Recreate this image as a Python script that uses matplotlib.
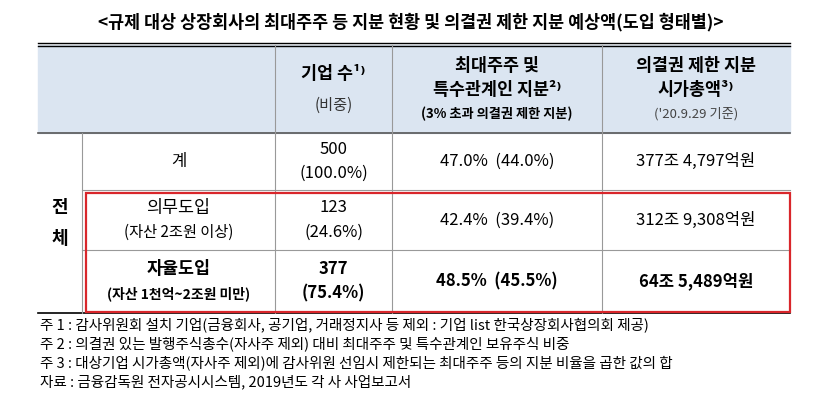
import matplotlib
matplotlib.use("Agg")
import matplotlib.pyplot as plt
from matplotlib.patches import Rectangle

plt.rcParams['font.family'] = ['Noto Sans CJK KR', 'DejaVu Sans']

title = "<규제 대상 상장회사의 최대주주 등 지분 현황 및 의결권 제한 지분 예상액(도입 형태별)>"
headers = [("기업 수¹⁾", "(비중)"), ("최대주주 및", "특수관계인 지분²⁾", "(3% 초과 의결권 제한 지분)"), ("의결권 제한 지분", "시가총액³⁾", "('20.9.29 기준)")]
row_labels = [("계",), ("의무도입", "(자산 2조원 이상)"), ("자율도입", "(자산 1천억~2조원 미만)")]
firm_counts = ["500", "123", "377"]
firm_shares = ["(100.0%)", "(24.6%)", "(75.4%)"]
stake = ["47.0%  (44.0%)", "42.4%  (39.4%)", "48.5%  (45.5%)"]
cap = ["377조 4,797억원", "312조 9,308억원", "64조 5,489억원"]
notes = ["주 1 : 감사위원회 설치 기업(금융회사, 공기업, 거래정지사 등 제외 : 기업 list 한국상장회사협의회 제공)",
         "주 2 : 의결권 있는 발행주식총수(자사주 제외) 대비 최대주주 및 특수관계인 보유주식 비중",
         "주 3 : 대상기업 시가총액(자사주 제외)에 감사위원 선임시 제한되는 최대주주 등의 지분 비율을 곱한 값의 합",
         "자료 : 금융감독원 전자공시시스템, 2019년도 각 사 사업보고서"]

W, H = 822, 403
fig = plt.figure(figsize=(W/100, H/100), dpi=100)
ax = fig.add_axes([0, 0, 1, 1])
ax.set_xlim(0, W); ax.set_ylim(H, 0); ax.axis('off')

ax.text(411, 22, title, ha='center', va='center', fontsize=12.5, fontweight='bold')

xs = [38, 82, 275, 392, 602, 790]
ys = [45, 133, 190, 250, 313]
ax.add_patch(Rectangle((xs[0], ys[0]), xs[-1]-xs[0], ys[1]-ys[0], color='#dbe5f1', zorder=0))
ax.plot([xs[0], xs[-1]], [ys[0]-2, ys[0]-2], color='black', lw=1)
ax.plot([xs[0], xs[-1]], [ys[0]+1, ys[0]+1], color='black', lw=1)
ax.plot([xs[0], xs[-1]], [ys[1], ys[1]], color='#555', lw=1.2)
ax.plot([xs[0], xs[-1]], [ys[-1], ys[-1]], color='black', lw=1.2)
for y in ys[2:4]:
    ax.plot([xs[1], xs[-1]], [y, y], color='#999', lw=0.8)
for x in xs[2:5]:
    ax.plot([x, x], [ys[0], ys[-1]], color='#999', lw=0.8)
ax.plot([xs[1], xs[1]], [ys[1], ys[-1]], color='#999', lw=0.8)
ax.add_patch(Rectangle((86, 193), 704, 119, fill=False, ec='#d9262b', lw=1.6, zorder=5))

# headers
hc = [(xs[i]+xs[i+1])/2 for i in range(2, 5)]
ax.text(hc[0], 74, headers[0][0], ha='center', va='center', fontsize=12.5, fontweight='bold')
ax.text(hc[0], 105, headers[0][1], ha='center', va='center', fontsize=11, color='#333')
ax.text(hc[1], 66, headers[1][0], ha='center', va='center', fontsize=12.5, fontweight='bold')
ax.text(hc[1], 90, headers[1][1], ha='center', va='center', fontsize=12.5, fontweight='bold')
ax.text(hc[1], 114, headers[1][2], ha='center', va='center', fontsize=9.5, fontweight='bold')
ax.text(hc[2], 66, headers[2][0], ha='center', va='center', fontsize=12.5, fontweight='bold')
ax.text(hc[2], 90, headers[2][1], ha='center', va='center', fontsize=12.5, fontweight='bold')
ax.text(hc[2], 114, headers[2][2], ha='center', va='center', fontsize=9.5, color='#444')

ax.text(60, 208, "전", ha='center', va='center', fontsize=13, fontweight='bold')
ax.text(60, 238, "체", ha='center', va='center', fontsize=13, fontweight='bold')

lc = (xs[1]+xs[2])/2
for i in range(3):
    y0, y1 = ys[i+1], ys[i+2]
    cy = (y0+y1)/2
    bold = 'bold' if i == 2 else 'normal'
    if len(row_labels[i]) == 1:
        ax.text(lc, cy, row_labels[i][0], ha='center', va='center', fontsize=12)
    else:
        ax.text(lc, cy-12, row_labels[i][0], ha='center', va='center', fontsize=12.5, fontweight=bold)
        ax.text(lc, cy+12, row_labels[i][1], ha='center', va='center', fontsize=11 if i == 1 else 10, fontweight=bold)
    ax.text(hc[0], cy-12, firm_counts[i], ha='center', va='center', fontsize=12, fontweight=bold)
    ax.text(hc[0], cy+12, firm_shares[i], ha='center', va='center', fontsize=12, fontweight=bold)
    ax.text(hc[1], cy, stake[i], ha='center', va='center', fontsize=12, fontweight=bold)
    ax.text(hc[2], cy, cap[i], ha='center', va='center', fontsize=12, fontweight=bold)

for i, n in enumerate(notes):
    ax.text(40, 325 + i*19, n, ha='left', va='center', fontsize=10.5)

fig.savefig("out.png", dpi=100)
